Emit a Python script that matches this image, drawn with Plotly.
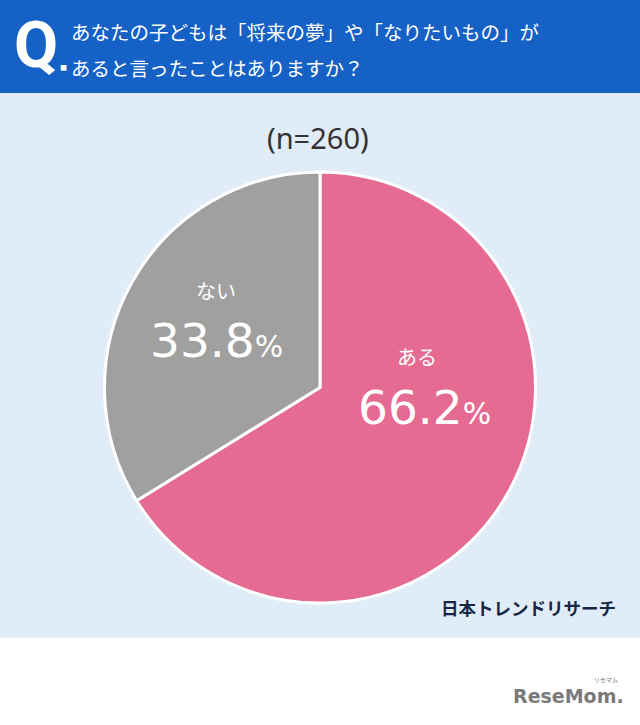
import plotly.graph_objects as go

labels = ["ある", "ない"]
values = [66.2, 33.8]
colors = ["#E56B93", "#A0A0A0"]
n_total = 260
title_lines = ["あなたの子どもは「将来の夢」や「なりたいもの」が", "あると言ったことはありますか？"]
source = "日本トレンドリサーチ"

W, H = 640, 725
JP = "Noto Sans CJK JP, Noto Sans, sans-serif"

fig = go.Figure()
fig.add_trace(go.Pie(
    labels=labels, values=values, sort=False, direction="clockwise", rotation=0,
    marker=dict(colors=colors, line=dict(color="#FFFFFF", width=3)),
    textinfo="none", hoverinfo="label+percent", showlegend=False,
    domain=dict(x=[104 / W, 536 / W], y=[122 / H, 553 / H]),
))

shapes = [
    dict(type="rect", xref="paper", yref="paper", x0=0, x1=1, y0=1 - 93 / H, y1=1,
         fillcolor="#1561C5", line=dict(width=0), layer="below"),
    dict(type="rect", xref="paper", yref="paper", x0=0, x1=1, y0=1 - 638 / H, y1=1 - 93 / H,
         fillcolor="#E1ECF9", line=dict(width=0), layer="below"),
]

def px(x, y):
    return x / W, 1 - y / H

ann = []
def add(text, x, y, size, color, family=JP, xanchor="center", weight="normal"):
    xx, yy = px(x, y)
    ann.append(dict(text=text, x=xx, y=yy, xref="paper", yref="paper",
                    showarrow=False, xanchor=xanchor, yanchor="middle",
                    font=dict(size=size, color=color, family=family, weight=weight)))

# header
add("Q", 36, 45, 64, "#FFFFFF", family="Roboto, sans-serif", weight="bold")
add("■", 63, 67, 7, "#FFFFFF")
add(title_lines[0], 69, 32, 19.5, "#FFFFFF", xanchor="left")
add(title_lines[1], 69, 68, 19.5, "#FFFFFF", xanchor="left")

# n
add(f"(n={n_total})", 318, 137, 29, "#333333", family="Noto Sans, sans-serif")

# slice labels
pos = {"ある": ((417, 356), (424, 407)), "ない": ((216, 290), (216, 340))}
for lab, val in zip(labels, values):
    (lx, ly), (vx, vy) = pos[lab]
    add(lab, lx, ly, 20, "#FFFFFF")
    add(f"{val:.1f}<span style='font-size:30px'>%</span>", vx, vy, 47, "#FFFFFF",
        family="DejaVu Sans, sans-serif")

# source
add(source, 618, 607, 17.5, "#152744", xanchor="right", weight="bold")

# logo
add("ReseMom.", 626, 696, 19, "#7A7A7A", family="DejaVu Sans, sans-serif", xanchor="right", weight="bold")
add("リセマム", 606, 679, 6, "#7A7A7A")

fig.update_layout(
    width=W, height=H, margin=dict(l=0, r=0, t=0, b=0),
    paper_bgcolor="#FFFFFF", plot_bgcolor="#FFFFFF",
    shapes=shapes, annotations=ann,
)
fig.write_html("out.html")
